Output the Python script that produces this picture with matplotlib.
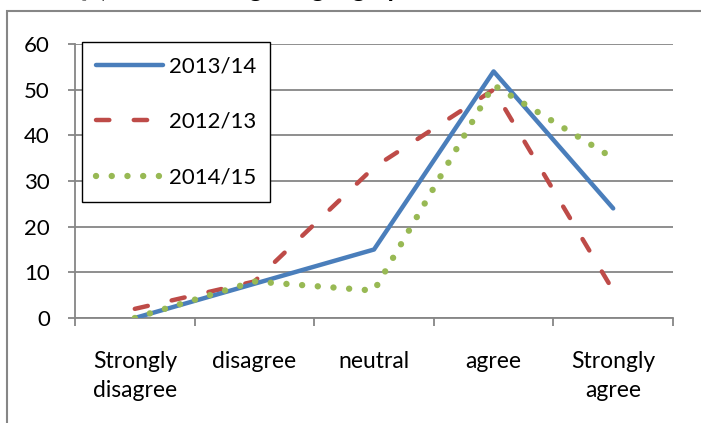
import matplotlib
matplotlib.use("Agg")
import matplotlib.pyplot as plt
from matplotlib.patches import Rectangle

plt.rcParams['font.family'] = ['Lato', 'DejaVu Sans']

# survey answers, percent of respondents
categories = ['Strongly\ndisagree', 'disagree', 'neutral', 'agree', 'Strongly\nagree']
y2013 = [0, 7.5, 15, 54, 24]
y2012 = [2, 8, 33, 50, 6]
y2014 = [0, 8, 6, 51, 35]
yticks = [0, 10, 20, 30, 40, 50, 60]
title = 'Q5) I like learning the geographical'

blue = '#4A7EBB'
red = '#BE4B48'
green = '#98B954'
grey = '#868686'

fig = plt.figure(figsize=(7.01, 4.23), dpi=100)
ax = fig.add_axes([75 / 701, 1 - 318 / 423, 598 / 701, 274 / 423])

# outer chart frame (cut off at right/bottom like the screenshot)
fig.patches.append(Rectangle((7 / 701, -0.2), 1.2, 1.2 - 11 / 423,
                             transform=fig.transFigure, fill=False,
                             edgecolor=grey, lw=1.5, zorder=0))

# title sits above the crop, only descenders show
# line the "g" of "learning" up with the screenshot
r = fig.canvas.get_renderer()
t = fig.text(0, 0, 'Q5) I like learnin', fontsize=18, fontweight='bold')
w = t.get_window_extent(r).width
t.remove()
fig.text((255 - w - 6) / 701, 1 + 2.8 / 423, title,
         ha='left', va='baseline', fontsize=18, fontweight='bold')

x = list(range(len(categories)))
ax.plot(x, y2013, color=blue, lw=3.2, solid_capstyle='round', label='2013/14', zorder=4)
ax.plot(x, y2012, color=red, lw=3.2, linestyle=(0, (3.0, 5.5)), dash_capstyle='round',
        label='2012/13', zorder=3)
ax.plot(x, y2014, color=green, lw=4.6, linestyle=(0, (0.01, 2.45)), dash_capstyle='round',
        label='2014/15', zorder=5)

ax.set_xlim(-0.5, 4.5)
ax.set_ylim(0, 60)
ax.set_yticks(yticks)
ax.grid(axis='y', color=grey, lw=1.3)
ax.set_axisbelow(True)

ax.set_xticks([i - 0.5 for i in range(len(categories) + 1)])
ax.set_xticklabels([])
ax.set_xticks(x, minor=True)
ax.set_xticklabels(categories, minor=True, fontsize=16.5, linespacing=1.45)
ax.tick_params(axis='x', which='major', length=6, width=1.3, color=grey, direction='out')
ax.tick_params(axis='x', which='minor', length=0, pad=24)
ax.tick_params(axis='y', length=5, width=1.3, color=grey, labelsize=16, pad=13)

for s in ['top', 'right']:
    ax.spines[s].set_visible(False)
for s in ['left', 'bottom']:
    ax.spines[s].set_color(grey)
    ax.spines[s].set_linewidth(1.3)

leg = ax.legend(loc='upper left', bbox_to_anchor=(82 / 701, 1 - 42 / 423),
                bbox_transform=fig.transFigure, fontsize=16, handlelength=3.0,
                handletextpad=0.25, labelspacing=1.6, borderpad=0.65,
                borderaxespad=0, fancybox=False, framealpha=1)
leg.get_frame().set_edgecolor('black')
leg.get_frame().set_linewidth(1.0)

fig.savefig('out.png', dpi=100)
